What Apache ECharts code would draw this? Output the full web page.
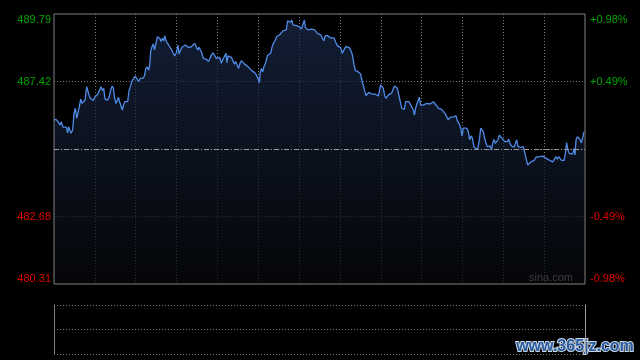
<!DOCTYPE html>
<html><head><meta charset="utf-8">
<script src="https://cdn.jsdelivr.net/npm/echarts@6/dist/echarts.min.js"></script>
<style>html,body{margin:0;padding:0;background:#000;}#c{width:640px;height:360px;}</style>
</head><body><div id="c"></div>
<script>
// previous close (base price)
const basePrice = 485.05;
// y tick offsets from base price
const tickOffsets = [-4.74, -2.37, 0, 2.37, 4.74];
// minutes since open (0..390)
const minutes = [
0,1.5,2.9,4.4,5.4,6.6,7.8,9.1,10.0,10.8,
11.5,12.5,13.7,14.7,15.7,16.7,17.6,18.6,19.6,20.6,
21.8,22.8,24.0,24.5,25.5,26.7,27.9,28.9,29.9,31.1,
32.3,33.5,34.5,35.5,36.5,37.5,38.4,39.4,40.6,41.6,
42.8,43.6,44.6,45.5,46.5,47.3,48.2,49.2,50.2,50.9,
51.9,52.9,54.1,55.1,56.1,57.3,58.5,59.7,61.0,62.2,
63.2,64.1,65.1,66.4,67.3,68.3,69.5,70.3,71.0,72.0,
73.0,73.9,74.9,75.9,76.9,
77.6,78.6,79.6,80.6,81.3,82.5,83.7,85.0,86.2,87.4,
88.6,89.9,91.1,91.8,92.8,94.0,95.2,96.5,97.4,98.4,
99.6,100.9,102.1,103.3,104.5,105.5,106.5,107.5,108.5,109.7,
110.9,112.1,113.4,114.3,115.6,116.8,118.0,119.2,120.5,121.7,
122.9,124.1,125.4,126.3,127.1,127.8,129.0,130.3,131.5,132.5,
133.4,134.7,135.6,136.6,137.6,138.8,140.0,141.3,142.5,143.7,
144.9,146.2,147.4,148.6,149.8,150.8,151.5,152.3,153.3,154.2,
155.5,156.7,157.9,159.1,160.1,161.1,162.3,163.5,164.5,165.7,
167.0,168.2,169.4,170.6,171.6,172.8,173.8,174.6,175.5,176.8,
178.0,179.2,180.4,181.7,182.9,183.9,184.6,185.6,186.6,187.8,
189.0,190.2,191.5,192.4,193.4,194.6,195.9,196.8,198.1,199.3,
200.8,202.0,203.2,204.4,205.7,206.9,208.1,209.3,210.6,211.8,
213.0,214.2,215.4,216.7,217.9,219.1,220.3,221.3,222.8,224.0,
225.2,226.5,227.2,228.2,229.2,230.1,231.1,232.1,
233.3,234.5,235.8,237.0,238.2,239.0,239.9,241.2,241.9,242.9,
243.8,244.8,245.6,246.8,248.0,249.2,250.0,251.2,252.2,253.2,
254.1,255.4,256.3,257.3,258.3,259.5,260.7,261.7,262.7,263.9,
264.7,265.6,266.6,267.6,268.3,269.3,270.3,271.3,272.5,273.7,
274.9,276.2,277.4,278.6,279.8,281.1,282.3,283.5,284.7,286.0,
287.2,288.4,289.6,290.9,292.1,293.3,294.5,295.3,296.2,297.5,
298.7,299.7,300.6,301.9,303.1,304.3,305.3,306.3,307.3,308.5,
309.5,
311.2,312.4,313.4,314.4,315.3,316.3,317.3,318.3,319.2,320.2,
321.2,322.2,323.2,324.1,325.1,326.1,327.1,328.1,329.0,330.0,
331.0,332.0,333.0,333.9,334.9,335.9,336.9,337.9,338.8,339.8,
340.8,341.8,342.8,343.7,344.7,345.7,346.7,347.9,349.1,350.3,
351.6,352.8,354.0,355.2,356.5,357.7,358.9,360.1,361.4,362.6,
363.8,365.0,366.3,367.5,368.7,369.7,370.7,371.6,372.6,373.6,
374.6,375.6,376.5,377.5,378.5,379.7,380.9,381.9,382.7,383.4,
384.4,385.4,386.3,387.3,388.3,389.3
];
// prices
const prices = [
486.07,486.09,486.01,485.89,486.01,485.82,485.89,485.82,485.62,485.83,
485.86,485.60,485.72,486.30,486.48,486.13,486.07,486.54,486.80,486.65,
486.59,486.77,487.24,487.27,486.98,486.83,486.80,486.75,486.87,486.91,
486.98,487.12,487.24,487.10,487.18,486.80,486.74,486.77,486.89,487.12,
487.26,487.18,486.83,486.65,486.75,486.87,486.71,486.77,486.42,486.56,
486.71,486.65,486.71,487.10,487.24,487.44,487.50,487.61,487.59,487.41,
487.53,487.50,487.53,487.61,487.85,487.94,487.82,488.00,488.47,488.64,
488.74,488.53,488.76,488.99,488.97,
488.94,488.82,488.94,488.85,489.02,488.82,488.74,488.64,488.55,488.43,
488.32,488.43,488.70,488.39,488.50,488.62,488.67,488.70,488.67,488.62,
488.59,488.64,488.70,488.76,488.70,488.53,488.62,488.67,488.43,488.23,
488.29,488.20,488.12,488.20,488.35,488.43,488.39,488.23,488.23,488.27,
488.06,488.20,488.32,488.41,488.08,488.32,488.29,488.27,488.20,488.03,
488.12,488.08,487.88,488.06,488.15,488.12,488.03,488.00,487.94,487.92,
487.82,487.76,487.73,487.65,487.53,487.38,487.73,487.88,487.76,487.94,
488.09,488.33,488.36,488.41,488.62,488.76,488.85,488.99,489.06,489.06,
489.11,489.20,489.18,489.23,489.55,489.55,489.50,489.58,489.41,489.38,
489.38,489.34,489.34,489.26,489.32,489.58,489.32,489.38,489.23,489.30,
489.26,489.20,489.23,489.30,489.11,489.09,489.06,489.03,488.85,489.03,
489.03,489.03,488.95,488.91,488.95,488.80,488.68,488.64,488.60,488.41,
488.53,488.64,488.68,488.62,488.53,488.36,488.03,487.80,487.78,487.80,
487.68,487.39,487.27,487.08,486.92,486.98,487.04,486.98,
486.98,486.97,486.98,486.95,486.91,486.89,487.30,487.30,487.18,486.91,
486.83,486.80,486.95,486.98,487.01,487.03,487.26,487.26,487.18,486.95,
486.77,486.48,486.54,486.44,486.71,486.68,486.71,486.77,486.54,486.42,
486.24,486.48,486.65,486.71,486.87,486.59,486.56,486.59,486.59,486.65,
486.65,486.63,486.68,486.71,486.75,486.56,486.48,486.51,486.44,486.44,
486.30,486.24,486.07,486.16,486.13,486.18,486.13,486.21,486.04,485.95,
485.78,485.51,485.78,485.83,485.78,485.66,485.37,485.51,485.43,485.11,
485.04,
485.04,485.37,485.78,485.83,485.66,485.43,485.25,485.13,485.13,485.16,
485.01,485.25,485.39,485.25,485.27,485.37,485.54,485.51,485.43,485.37,
485.31,485.31,485.31,485.39,485.25,485.16,485.13,485.11,485.13,485.37,
485.13,485.07,485.11,485.11,485.13,485.07,484.72,484.49,484.52,484.60,
484.60,484.66,484.76,484.72,484.78,484.80,484.80,484.78,484.72,484.69,
484.66,484.60,484.60,484.57,484.78,484.69,484.78,484.84,484.66,484.60,
484.64,484.90,485.27,485.01,484.90,484.87,484.87,485.07,484.84,485.37,
485.48,485.51,485.39,485.27,485.43,485.66
];

const GREEN = '#00a600', RED = '#e00000';
const n = Math.min(minutes.length, prices.length);
const lineData = [];
for (let i = 0; i < n; i++) lineData.push([minutes[i], +(prices[i] - basePrice).toFixed(2)]);
const yMin = tickOffsets[0], yMax = tickOffsets[tickOffsets.length - 1], yStep = tickOffsets[1] - tickOffsets[0];
const near = (a, b) => Math.abs(a - b) < 1e-6;
function leftFmt(v) {
  if (near(v, 0)) return '';
  const s = (basePrice + v).toFixed(2);
  if (near(v, yMax)) return '{top|' + s + '}';
  if (near(v, yMin)) return '{bot|' + s + '}';
  return s;
}
function rightFmt(v) {
  if (near(v, 0)) return '';
  const pct = v / basePrice * 100;
  const s = (pct > 0 ? '+' : '') + pct.toFixed(2) + '%';
  if (near(v, yMax)) return '{top|' + s + '}';
  if (near(v, yMin)) return '{bot|' + s + '}';
  return s;
}
const rich = {
  top: { color: GREEN, padding: [12, 0, 0, 0], fontSize: 11, fontFamily: 'Liberation Sans' },
  bot: { color: RED, padding: [0, 0, 11, 0], fontSize: 11, fontFamily: 'Liberation Sans' }
};
const dotted = { color: '#777', type: [1, 2], width: 1 };
const chart = echarts.init(document.getElementById('c'), null, { renderer: 'canvas' });
chart.setOption({
  backgroundColor: '#000',
  animation: false,
  grid: [
    { left: 54, right: 55, top: 14, height: 270, show: true, borderColor: '#808080', borderWidth: 1, backgroundColor: 'transparent', z: 5 },
    { left: 54, right: 55, top: 305, height: 49, show: false }
  ],
  xAxis: [
    { type: 'value', gridIndex: 0, min: 0, max: 390, interval: 30, axisLine: { show: false }, axisTick: { show: false }, axisLabel: { show: false },
      splitLine: { show: true, showMinLine: false, showMaxLine: false, lineStyle: dotted } },
    { type: 'value', gridIndex: 1, min: 0, max: 390, interval: 30, axisLine: { show: false }, axisTick: { show: false }, axisLabel: { show: false }, splitLine: { show: false } }
  ],
  yAxis: [
    { type: 'value', gridIndex: 0, position: 'left', min: yMin, max: yMax, interval: yStep,
      axisLine: { show: false }, axisTick: { show: false },
      axisLabel: { margin: 3, fontSize: 11, fontFamily: 'Liberation Sans', formatter: leftFmt, color: v => v > 0 ? GREEN : RED, rich: rich },
      splitLine: { show: true, showMinLine: false, showMaxLine: false, lineStyle: dotted } },
    { type: 'value', gridIndex: 0, position: 'right', min: yMin, max: yMax, interval: yStep,
      axisLine: { show: false }, axisTick: { show: false },
      axisLabel: { margin: 5, fontSize: 11, fontFamily: 'Liberation Sans', formatter: rightFmt, color: v => v > 0 ? GREEN : RED, rich: rich },
      splitLine: { show: false } },
    { type: 'value', gridIndex: 1, position: 'left', min: 0, max: 2, interval: 1,
      axisLine: { show: true, lineStyle: { color: '#808080' } }, axisTick: { show: false }, axisLabel: { show: false },
      splitLine: { show: true, lineStyle: dotted } },
    { type: 'value', gridIndex: 1, position: 'right', min: 0, max: 2, interval: 1,
      axisLine: { show: true, lineStyle: { color: '#a0a0a0' } }, axisTick: { show: false }, axisLabel: { show: false },
      splitLine: { show: false } }
  ],
  series: [{
    type: 'line', xAxisIndex: 0, yAxisIndex: 0, data: lineData, showSymbol: false, symbol: 'none',
    lineStyle: { color: '#4f8be6', width: 1.3 },
    areaStyle: { origin: 'start', color: new echarts.graphic.LinearGradient(0, 0, 0, 1, [
      { offset: 0, color: '#1a2a4a' }, { offset: 1, color: '#06080c' }]) },
    markLine: { silent: true, symbol: 'none', label: { show: false },
      lineStyle: { color: '#9a9a9a', type: [5, 2, 1, 2], width: 1 },
      data: [{ yAxis: 0 }] }
  }],
  graphic: [
    { type: 'text', x: 573, y: 283, style: { text: 'sina.com', font: '11px "Liberation Sans"', fill: '#b0b0b0', align: 'right', verticalAlign: 'bottom' } },
    { type: 'text', x: 575, y: 347, style: { text: 'www.365jz.com', font: 'bold 16px "Liberation Sans"', fill: '#2b5b9f', stroke: '#c8d6e6', lineWidth: 2, align: 'center', verticalAlign: 'middle' } }
  ]
});
</script>
</body></html>
